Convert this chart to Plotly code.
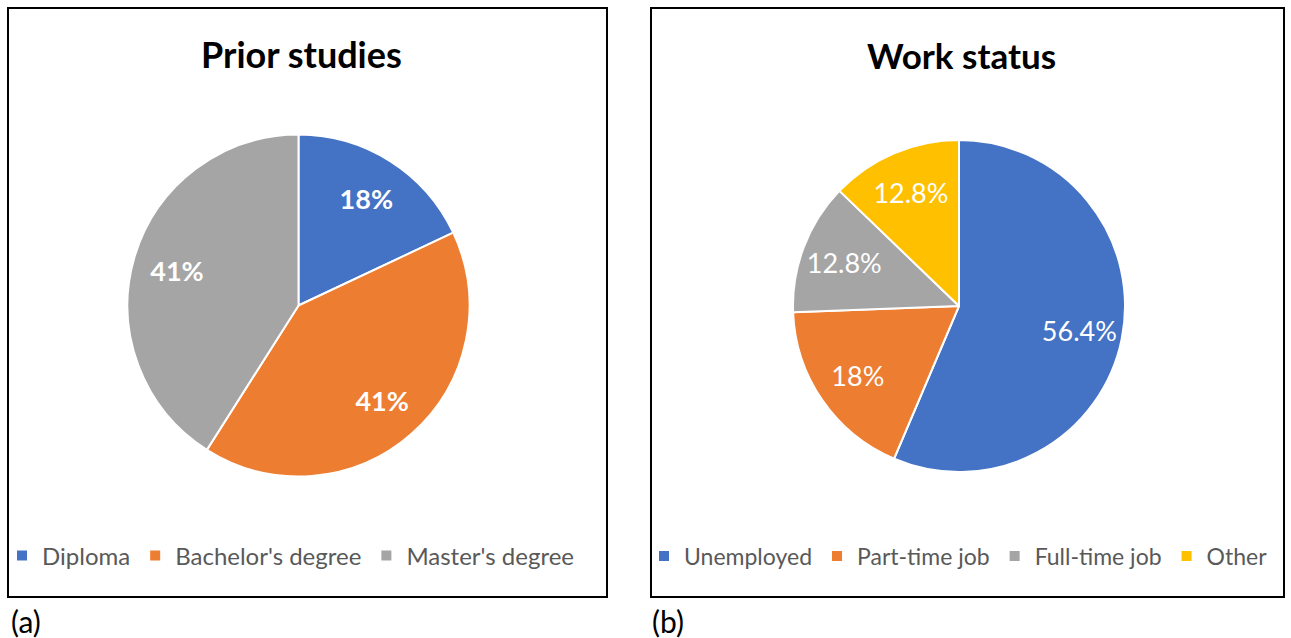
import plotly.graph_objects as go

W, H = 1291, 638

# ---- data ----
studies_labels = ["Diploma", "Bachelor's degree", "Master's degree"]
studies_values = [18, 41, 41]
studies_text = ["18%", "41%", "41%"]

work_labels = ["Unemployed", "Part-time job", "Full-time job", "Other"]
work_values = [56.4, 18, 12.8, 12.8]
work_text = ["56.4%", "18%", "12.8%", "12.8%"]

titles = ["Prior studies", "Work status"]
panel_tags = ["(a)", "(b)"]

BLUE, ORANGE, GRAY, YELLOW = "#4472C4", "#ED7D31", "#A5A5A5", "#FFC000"
FONT = "Lato"


def px_x(v):
    return v / W


def px_y(v):
    return 1 - v / H


def domain(cx, cy, r):
    return dict(x=[px_x(cx - r), px_x(cx + r)], y=[px_y(cy + r), px_y(cy - r)])


fig = go.Figure()


def add_pie(labels, values, text, colors, dom, legend, weight):
    # slices
    fig.add_trace(go.Pie(
        labels=labels, values=values, textinfo="none",
        sort=False, direction="clockwise", rotation=0,
        marker=dict(colors=colors, line=dict(color="white", width=2)),
        domain=dom, legend=legend, hoverinfo="label+percent",
    ))
    # labels, placed by the library inside a transparent ring
    fig.add_trace(go.Pie(
        labels=labels, values=values, text=text,
        textinfo="text", textposition="inside", insidetextorientation="horizontal",
        sort=False, direction="clockwise", rotation=0, hole=0.48,
        marker=dict(colors=["rgba(0,0,0,0)"] * len(labels), line=dict(width=0)),
        textfont=dict(family=FONT, size=27, color="white", weight=weight),
        domain=dom, showlegend=False, hoverinfo="skip",
    ))


add_pie(studies_labels, studies_values, studies_text, [BLUE, ORANGE, GRAY],
        domain(298.5, 305.5, 171), "legend", "bold")
add_pie(work_labels, work_values, work_text, [BLUE, ORANGE, GRAY, YELLOW],
        domain(959, 306, 166), "legend2", "normal")

fig.update_layout(
    width=W, height=H,
    margin=dict(l=0, r=0, t=0, b=0),
    paper_bgcolor="white", plot_bgcolor="white",
    font=dict(family=FONT),
    legend=dict(orientation="h", x=px_x(2), y=px_y(556), xanchor="left", yanchor="middle",
                font=dict(family=FONT, size=24, color="#595959"),
                bgcolor="rgba(0,0,0,0)", itemclick=False),
    legend2=dict(orientation="h", x=px_x(644), y=px_y(556), xanchor="left", yanchor="middle",
                 font=dict(family=FONT, size=23, color="#595959"),
                 bgcolor="rgba(0,0,0,0)", itemclick=False),
    shapes=[
        dict(type="rect", xref="paper", yref="paper",
             x0=px_x(8), x1=px_x(607), y0=px_y(597), y1=px_y(8),
             line=dict(color="black", width=2)),
        dict(type="rect", xref="paper", yref="paper",
             x0=px_x(651), x1=px_x(1284), y0=px_y(597), y1=px_y(8),
             line=dict(color="black", width=2)),
    ],
    annotations=[
        dict(text="<b>%s</b>" % titles[0], x=px_x(301), y=px_y(54), xref="paper", yref="paper",
             xanchor="center", yanchor="middle", showarrow=False,
             font=dict(family=FONT, size=36, color="black")),
        dict(text="<b>%s</b>" % titles[1], x=px_x(961), y=px_y(55), xref="paper", yref="paper",
             xanchor="center", yanchor="middle", showarrow=False,
             font=dict(family=FONT, size=35, color="black")),
        dict(text=panel_tags[0], x=px_x(9), y=px_y(621), xref="paper", yref="paper",
             xanchor="left", yanchor="middle", showarrow=False,
             font=dict(family=FONT, size=30, color="black")),
        dict(text=panel_tags[1], x=px_x(650), y=px_y(621), xref="paper", yref="paper",
             xanchor="left", yanchor="middle", showarrow=False,
             font=dict(family=FONT, size=30, color="black")),
    ],
)

fig.write_html("out.html", config={"displayModeBar": False},
               post_script="document.body.style.margin='0';document.body.style.padding='0';")
